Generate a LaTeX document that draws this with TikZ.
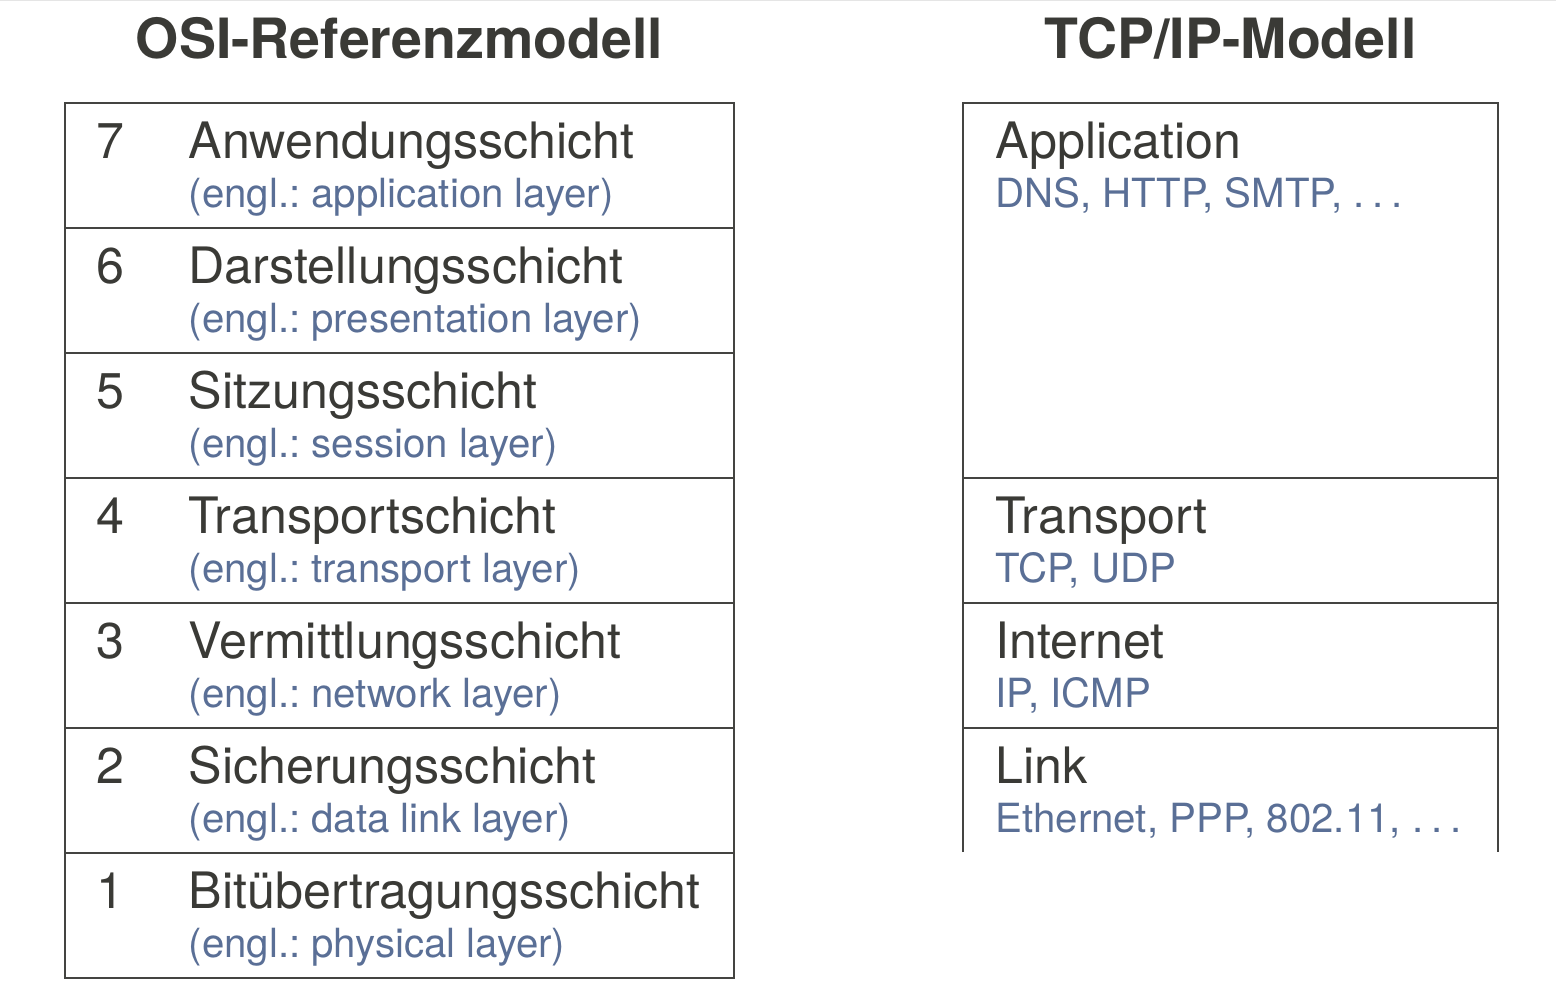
\documentclass[tikz,border=0pt]{standalone}
\usepackage{fontspec}
\setmainfont{TeX Gyre Heros}
\frenchspacing
\definecolor{ink}{HTML}{3A3A36}
\definecolor{proto}{HTML}{5A6F96}
\definecolor{rule}{HTML}{444441}
\newcommand{\spdots}{.\kern0.2em.\kern0.2em.}
\begin{document}
\begin{tikzpicture}[x=1pt,y=-1pt,
  cell/.style={draw=rule, line width=1.8pt, anchor=north west, inner sep=0pt, outer sep=0pt},
  num/.style={anchor=base west, inner sep=0pt, text=ink, font=\fontsize{50.2}{50}\selectfont},
  main/.style={anchor=base west, inner sep=0pt, text=ink, font=\fontsize{50.2}{50}\selectfont},
  sub/.style={anchor=base west, inner sep=0pt, text=proto, font=\fontsize{40.2}{40}\selectfont},
  heading/.style={anchor=base, inner sep=0pt, text=ink, font=\fontsize{55.5}{56}\selectfont\bfseries}]
\useasboundingbox (0,0) rectangle (1556,1006);
\draw[gray!20, line width=1.2pt] (0,0.6) -- (1556,0.6);

% OSI reference model: seven stacked layers
\node[heading] (osititle) at (399.5,59) {OSI-Referenzmodell};
\foreach \n/\de/\en [count=\i from 0] in {
    7/Anwendungsschicht/application layer,
    6/Darstellungsschicht/presentation layer,
    5/Sitzungsschicht/session layer,
    4/Transportschicht/transport layer,
    3/Vermittlungsschicht/network layer,
    2/Sicherungsschicht/data link layer,
    1/Bitübertragungsschicht/physical layer}{
  \node[cell, minimum width=669pt, minimum height=125pt] (osi\n) at (65,103+125*\i) {};
  \node[num] (osinum\n) at ([xshift=31pt,yshift=-55.3pt]osi\n.north west) {\n};
  \node[main] (osiname\n) at ([xshift=123.5pt,yshift=-55.3pt]osi\n.north west) {\de};
  \node[sub] (osien\n) at ([xshift=123.5pt,yshift=-104.2pt]osi\n.north west) {(engl.: \en)};
}

% TCP/IP model: four layers, the lowest one open at the bottom
\node[heading] (tcptitle) at (1230.5,59) {TCP/IP-Modell};
\node[cell, minimum width=535pt, minimum height=375pt] (app) at (963,103) {};
\node[cell, minimum width=535pt, minimum height=125pt] (trans) at (963,478) {};
\node[cell, minimum width=535pt, minimum height=125pt] (inet) at (963,603) {};
\node[anchor=north west, inner sep=0pt, outer sep=0pt, minimum width=535pt, minimum height=124pt] (link) at (963,728) {};
\draw[rule, line width=1.8pt] (link.south west) -- (link.north west) -- (link.north east) -- (link.south east);

\foreach \c/\t/\p in {app/Application/{DNS, HTTP, SMTP, \spdots},
                      trans/Transport/{TCP, UDP},
                      inet/Internet/{IP, ICMP},
                      link/Link/{Ethernet, PPP, 802.11, \spdots}}{
  \node[main] (\c name) at ([xshift=32.5pt,yshift=-55.3pt]\c.north west) {\t};
  \node[sub] (\c proto) at ([xshift=32.5pt,yshift=-104.2pt]\c.north west) {\p};
}
\end{tikzpicture}
\end{document}
